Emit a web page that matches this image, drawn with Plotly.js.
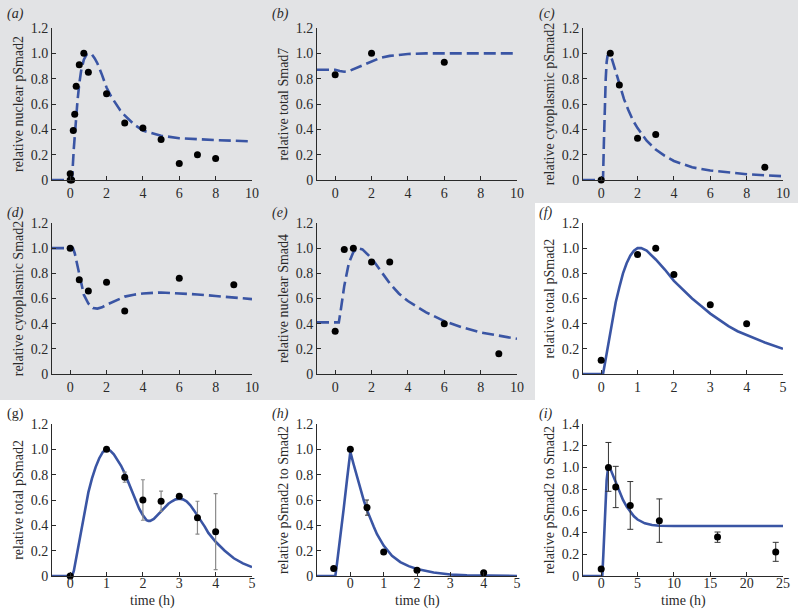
<!DOCTYPE html>
<html>
<head>
<meta charset="utf-8">
<script src="https://cdn.plot.ly/plotly-3.0.1.min.js"></script>
<style>html,body{margin:0;padding:0;background:#fff;}#chart{width:798px;height:612px;}</style>
</head>
<body>
<div id="chart"></div>
<script>
// ---- data ----
const aTime = [0, 0, 0.08, 0.17, 0.25, 0.33, 0.5, 0.75, 1, 2, 3, 4, 5, 6, 7, 8];
const aVal  = [0.05, 0, 0, 0.39, 0.52, 0.74, 0.91, 1.0, 0.85, 0.68, 0.45, 0.41, 0.32, 0.13, 0.20, 0.17];
const aCurveT = [-1, 0.1, 0.2, 0.3, 0.4, 0.5, 0.6, 0.75, 0.9, 1.05, 1.2, 1.35, 1.5, 1.75, 2, 2.25, 2.5, 2.75, 3, 3.5, 4, 4.5, 5, 6, 7, 8, 9, 10];
const aCurveV = [0, 0, 0.25, 0.45, 0.62, 0.76, 0.86, 0.95, 0.99, 1.0, 0.99, 0.96, 0.92, 0.83, 0.73, 0.66, 0.6, 0.55, 0.51, 0.44, 0.39, 0.37, 0.35, 0.33, 0.32, 0.315, 0.31, 0.305];

const bTime = [0, 2, 6];
const bVal  = [0.83, 1.0, 0.93];
const bCurveT = [-1, 0, 0.25, 0.5, 0.75, 1, 1.5, 2, 2.5, 3, 3.5, 4, 5, 6, 10];
const bCurveV = [0.87, 0.87, 0.86, 0.855, 0.86, 0.875, 0.91, 0.94, 0.965, 0.98, 0.99, 0.995, 1.0, 1.0, 1.0];

const cTime = [0, 0.5, 1, 2, 3, 9];
const cVal  = [0, 1.0, 0.75, 0.33, 0.36, 0.10];
const cCurveT = [-1, 0.1, 0.15, 0.2, 0.25, 0.3, 0.35, 0.45, 0.6, 0.75, 1, 1.25, 1.5, 1.75, 2, 2.5, 3, 3.5, 4, 5, 6, 7, 8, 9, 10];
const cCurveV = [0, 0, 0.3, 0.6, 0.8, 0.93, 0.98, 1.0, 0.95, 0.88, 0.76, 0.64, 0.55, 0.47, 0.41, 0.31, 0.24, 0.19, 0.15, 0.1, 0.075, 0.058, 0.046, 0.037, 0.03];

const dTime = [0, 0.5, 1, 2, 3, 6, 9];
const dVal  = [1.0, 0.75, 0.66, 0.73, 0.50, 0.76, 0.71];
const dCurveT = [-1, 0.15, 0.25, 0.5, 0.75, 1.0, 1.25, 1.5, 1.75, 2, 2.5, 3, 3.5, 4, 5, 6, 7, 8, 9, 10];
const dCurveV = [1.0, 1.0, 0.96, 0.8, 0.63, 0.56, 0.525, 0.52, 0.53, 0.55, 0.585, 0.615, 0.63, 0.64, 0.648, 0.643, 0.632, 0.62, 0.607, 0.595];

const eTime = [0, 0.5, 1, 2, 3, 6, 9];
const eVal  = [0.34, 0.99, 1.0, 0.89, 0.89, 0.40, 0.16];
const eCurveT = [-1, 0.2, 0.3, 0.5, 0.75, 1.0, 1.25, 1.5, 2, 2.5, 3, 3.5, 4, 5, 6, 7, 8, 9, 10];
const eCurveV = [0.41, 0.41, 0.5, 0.7, 0.88, 0.97, 1.0, 0.99, 0.92, 0.82, 0.72, 0.64, 0.58, 0.49, 0.42, 0.37, 0.33, 0.305, 0.28];

const fTime = [0, 1, 1.5, 2, 3, 4];
const fVal  = [0.11, 0.95, 1.0, 0.79, 0.55, 0.40];
const fCurveT = [-0.5, 0.05, 0.1, 0.2, 0.3, 0.4, 0.5, 0.6, 0.7, 0.8, 0.9, 1.0, 1.1, 1.25, 1.5, 1.75, 2, 2.25, 2.5, 2.75, 3, 3.25, 3.5, 3.75, 4, 4.5, 5];
const fCurveV = [0, 0, 0.08, 0.24, 0.42, 0.57, 0.69, 0.8, 0.88, 0.94, 0.98, 1.0, 1.0, 0.98, 0.91, 0.83, 0.74, 0.67, 0.6, 0.54, 0.48, 0.43, 0.38, 0.34, 0.31, 0.25, 0.2];

const gTime = [0, 1, 1.5, 2, 2.5, 3, 3.5, 4];
const gVal  = [0, 1.0, 0.78, 0.60, 0.59, 0.63, 0.46, 0.35];
const gErr  = [0, 0, 0.04, 0.16, 0.08, 0, 0.13, 0.30];
const gCurveT = [-0.5, 0.05, 0.1, 0.2, 0.3, 0.4, 0.5, 0.6, 0.7, 0.8, 0.9, 1.0, 1.1, 1.2, 1.3, 1.4, 1.5, 1.6, 1.7, 1.8, 1.9, 2.0, 2.1, 2.15, 2.2, 2.3, 2.4, 2.5, 2.6, 2.7, 2.8, 2.9, 3.0, 3.1, 3.2, 3.3, 3.4, 3.5, 3.6, 3.7, 3.8, 3.9, 4.0, 4.25, 4.5, 4.75, 5.0];
const gCurveV = [0, 0, 0.04, 0.2, 0.37, 0.53, 0.66, 0.77, 0.86, 0.93, 0.98, 1.0, 0.99, 0.96, 0.92, 0.87, 0.81, 0.74, 0.67, 0.6, 0.53, 0.48, 0.44, 0.435, 0.435, 0.45, 0.48, 0.51, 0.54, 0.57, 0.59, 0.605, 0.61, 0.605, 0.59, 0.56, 0.52, 0.48, 0.43, 0.39, 0.34, 0.3, 0.27, 0.2, 0.14, 0.1, 0.07];

const hTime = [-0.5, 0, 0.5, 1, 2, 4];
const hVal  = [0.06, 1.0, 0.54, 0.19, 0.045, 0.025];
const hErr  = [0, 0, 0.06, 0, 0, 0];
const hCurveT = [-1, -0.45, -0.4, -0.3, -0.2, -0.1, 0, 0.1, 0.2, 0.3, 0.4, 0.5, 0.6, 0.7, 0.8, 0.9, 1.0, 1.25, 1.5, 1.75, 2, 2.5, 3, 3.5, 4, 5];
const hCurveV = [0, 0, 0.1, 0.3, 0.53, 0.76, 0.98, 0.88, 0.78, 0.69, 0.6, 0.52, 0.45, 0.39, 0.33, 0.28, 0.24, 0.16, 0.11, 0.078, 0.055, 0.027, 0.012, 0.005, 0.002, 0];

const iTime = [0, 1, 2, 4, 8, 16, 24];
const iVal  = [0.065, 1.0, 0.82, 0.65, 0.51, 0.36, 0.22];
const iErrPlus  = [0, 0.23, 0.19, 0.22, 0.20, 0.045, 0.09];
const iErrMinus = [0, 0.22, 0.19, 0.22, 0.20, 0.05, 0.085];
const iCurveT = [-2.5, 0.15, 0.3, 0.45, 0.6, 0.75, 0.9, 1.05, 1.3, 1.6, 2, 2.5, 3, 3.5, 4, 4.5, 5, 5.5, 6, 7, 8, 10, 25];
const iCurveV = [0, 0, 0.2, 0.48, 0.72, 0.88, 0.97, 1.0, 0.98, 0.93, 0.86, 0.78, 0.7, 0.64, 0.59, 0.55, 0.52, 0.5, 0.485, 0.47, 0.463, 0.46, 0.46];

const panelLabels = ['(a)', '(b)', '(c)', '(d)', '(e)', '(f)', '(g)', '(h)', '(i)'];
const yTitles = ['relative nuclear pSmad2', 'relative total Smad7', 'relative cytoplasmic pSmad2',
                 'relative cytoplasmic Smad2', 'relative nuclear Smad4', 'relative total pSmad2',
                 'relative total pSmad2', 'relative pSmad2 to Smad2', 'relative pSmad2 to Smad2'];
const xTitle = 'time (h)';
const xTicksTen = [0, 2, 4, 6, 8, 10];
const xTicksFive = [0, 1, 2, 3, 4, 5];
const xTicksLong = [0, 5, 10, 15, 20, 25];
const yTickVals = [0, 0.2, 0.4, 0.6, 0.8, 1.0, 1.2];
const yTickText = ['0', '0.2', '0.4', '0.6', '0.8', '1.0', '1.2'];
const yTickValsI = [0, 0.2, 0.4, 0.6, 0.8, 1.0, 1.2, 1.4];
const yTickTextI = ['0', '0.2', '0.4', '0.6', '0.8', '1.0', '1.2', '1.4'];

// ---- layout geometry ----
const W = 798, H = 612;
const colPx = [[52, 252], [317, 517], [583, 783]];
const rowPx = [[28, 180], [223, 374], [424, 576]];
const FONT = '"Liberation Serif", "Times New Roman", Times, serif';
const FS = 14;
const BLUE = '#3a55a4';
const AX = '#2a2a2a';

const xRanges = [[-1, 10], [-1, 10], [-1, 10], [-1, 10], [-1, 10], [-0.5, 5], [-0.5, 5], [-1, 5], [-2.5, 25]];
const xTickSets = [xTicksTen, xTicksTen, xTicksTen, xTicksTen, xTicksTen, xTicksFive, xTicksFive, xTicksFive, xTicksLong];

const layout = {
  width: W, height: H,
  margin: {l: 0, r: 0, t: 0, b: 0},
  paper_bgcolor: '#ffffff',
  plot_bgcolor: 'rgba(0,0,0,0)',
  showlegend: false,
  font: {family: FONT, size: FS, color: AX},
  shapes: [{
    type: 'path', xref: 'paper', yref: 'paper', layer: 'below',
    path: 'M0,1 L1,1 L1,' + (1 - 203 / H) + ' L' + (535 / W) + ',' + (1 - 203 / H) +
          ' L' + (535 / W) + ',' + (1 - 400 / H) + ' L0,' + (1 - 400 / H) + ' Z',
    fillcolor: '#e2e3e5', line: {width: 0}
  }],
  annotations: []
};

for (let k = 0; k < 9; k++) {
  const r = Math.floor(k / 3), c = k % 3;
  const sfx = k === 0 ? '' : String(k + 1);
  const xd = [colPx[c][0] / W, colPx[c][1] / W];
  const yd = [1 - rowPx[r][1] / H, 1 - rowPx[r][0] / H];
  layout['xaxis' + sfx] = {
    domain: xd, range: xRanges[k], anchor: 'y' + sfx,
    tickmode: 'array', tickvals: xTickSets[k],
    showline: true, linecolor: AX, linewidth: 1,
    ticks: 'inside', ticklen: 4, tickcolor: AX, tickwidth: 1,
    showgrid: false, zeroline: false, automargin: false,
    ticklabelstandoff: r === 2 ? -6 : 0,
    tickfont: {family: FONT, size: FS, color: AX}
  };
  layout['yaxis' + sfx] = {
    domain: yd, range: k === 8 ? [0, 1.4] : [0, 1.2], anchor: 'x' + sfx,
    tickmode: 'array',
    tickvals: k === 8 ? yTickValsI : yTickVals,
    ticktext: k === 8 ? yTickTextI : yTickText,
    showline: true, linecolor: AX, linewidth: 1,
    ticks: 'inside', ticklen: 4, tickcolor: AX, tickwidth: 1,
    showgrid: false, zeroline: false, automargin: false,
    tickfont: {family: FONT, size: FS, color: AX},
    title: {text: yTitles[k], font: {family: FONT, size: FS, color: AX}, standoff: 3}
  };
  const lx = (c === 0 ? 5 : c === 1 ? 270 : 537) / W;
  const ly = 1 - (r === 0 ? 4 : r === 1 ? 203 : 404) / H;
  layout.annotations.push({
    text: k === 6 ? panelLabels[k] : '<i>' + panelLabels[k] + '</i>',
    xref: 'paper', yref: 'paper', x: lx, y: ly,
    xanchor: 'left', yanchor: 'top', showarrow: false,
    font: {family: FONT, size: FS, color: AX}
  });
  if (r === 2) {
    layout.annotations.push({
      text: xTitle, xref: 'paper', yref: 'paper',
      x: (colPx[c][0] + colPx[c][1]) / 2 / W, y: 1 - 601 / H,
      xanchor: 'center', yanchor: 'middle', showarrow: false,
      font: {family: FONT, size: FS, color: AX}
    });
  }
}

const curves = [
  [aCurveT, aCurveV], [bCurveT, bCurveV], [cCurveT, cCurveV],
  [dCurveT, dCurveV], [eCurveT, eCurveV], [fCurveT, fCurveV],
  [gCurveT, gCurveV], [hCurveT, hCurveV], [iCurveT, iCurveV]
];
const points = [
  [aTime, aVal], [bTime, bVal], [cTime, cVal],
  [dTime, dVal], [eTime, eVal], [fTime, fVal],
  [gTime, gVal], [hTime, hVal], [iTime, iVal]
];
const errs = [null, null, null, null, null, null,
  {type: 'data', array: gErr, color: '#8a8a8a', thickness: 1.2, width: 2},
  {type: 'data', array: hErr, color: '#333333', thickness: 1, width: 2},
  {type: 'data', array: iErrPlus, arrayminus: iErrMinus, symmetric: false, color: '#333333', thickness: 1, width: 3}
];

const traces = [];
for (let k = 0; k < 9; k++) {
  const sfx = k === 0 ? '' : String(k + 1);
  traces.push({
    x: curves[k][0], y: curves[k][1], type: 'scatter', mode: 'lines',
    xaxis: 'x' + sfx, yaxis: 'y' + sfx, cliponaxis: false, hoverinfo: 'skip',
    line: {color: BLUE, width: 2.6, dash: k < 5 ? '12px,5px' : 'solid'}
  });
  const pt = {
    x: points[k][0], y: points[k][1], type: 'scatter', mode: 'markers',
    xaxis: 'x' + sfx, yaxis: 'y' + sfx, cliponaxis: false,
    marker: {color: '#000000', size: 7}
  };
  if (errs[k]) pt.error_y = errs[k];
  traces.push(pt);
}

Plotly.newPlot('chart', traces, layout, {staticPlot: true, displayModeBar: false});
</script>
</body>
</html>
